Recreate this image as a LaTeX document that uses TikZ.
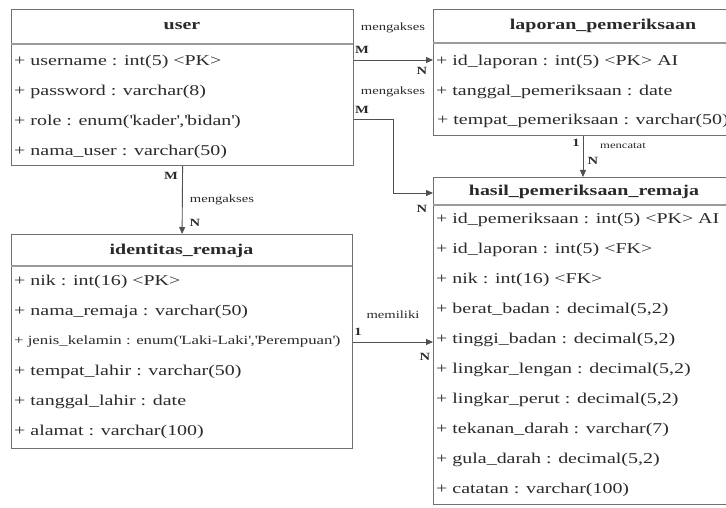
\documentclass[tikz,border=0pt]{standalone}
\usepackage{fontspec}
\setmainfont{Liberation Serif}[FakeStretch=1.33]
\usetikzlibrary{arrows.meta}
\definecolor{bordc}{HTML}{707070}
\definecolor{divc}{HTML}{9A9A9A}
\definecolor{txtc}{HTML}{2A2A2A}
\definecolor{linec}{HTML}{505050}
\newcommand{\sq}{\textquotesingle}
\tikzset{
  box/.style={draw=bordc, line width=1.2pt, fill=white, inner sep=0pt, anchor=north west},
  divider/.style={draw=divc, line width=1.2pt},
  ttl/.style={font=\fontsize{15}{15}\selectfont\bfseries, text=txtc, inner sep=0pt},
  row/.style={font=\fontsize{15}{15}\selectfont, text=txtc, anchor=west, inner sep=0pt},
  smallrow/.style={font=\fontsize{12.6}{12.6}\selectfont, text=txtc, anchor=west, inner sep=0pt},
  conn/.style={draw=linec, line width=0.9pt, -{Triangle[length=7pt,width=6pt]}},
  lbl/.style={font=\fontsize{11}{11}\selectfont, text=txtc, inner sep=0pt},
  tinylbl/.style={font=\fontsize{9.5}{9.5}\selectfont, text=txtc, inner sep=0pt},
  card/.style={font=\fontsize{11}{11}\selectfont\bfseries, text=txtc, inner sep=0pt},
}
\begin{document}
\begin{tikzpicture}[x=1pt,y=-1pt]
\useasboundingbox (0,0) rectangle (726,508);
\fill[white] (0,0) rectangle (726,508);
\clip (0,0) rectangle (726,508);

% ---------- user ----------
\node[box, minimum width=342pt, minimum height=156pt] (user) at (11,9) {};
\draw[divider] (11,44) -- (353,44);
\node[ttl] (ut) at (182,26.5) {user};
\node[row] (u1) at (14,62) {+ username : int(5) <PK>};
\node[row] (u2) at (14,92) {+ password : varchar(8)};
\node[row] (u3) at (14,122) {+ role : enum(\sq kader\sq,\sq bidan\sq)};
\node[row] (u4) at (14,152) {+ nama\_user : varchar(50)};

% ---------- laporan_pemeriksaan ----------
\node[box, minimum width=340pt, minimum height=126pt] (lap) at (433,9) {};
\draw[divider] (433,43) -- (773,43);
\node[ttl] (lt) at (603,26) {laporan\_pemeriksaan};
\node[row] (l1) at (436,62) {+ id\_laporan : int(5) <PK> AI};
\node[row] (l2) at (436,92) {+ tanggal\_pemeriksaan : date};
\node[row] (l3) at (437,121) {+ tempat\_pemeriksaan : varchar(50)};

% ---------- hasil_pemeriksaan_remaja ----------
\node[box, minimum width=340pt, minimum height=327pt] (hasil) at (433,177) {};
\draw[divider] (433,205) -- (773,205);
\node[ttl] (ht) at (584,192) {hasil\_pemeriksaan\_remaja};
\node[row] (h1) at (436,220) {+ id\_pemeriksaan : int(5) <PK> AI};
\node[row] (h2) at (436,250) {+ id\_laporan : int(5) <FK>};
\node[row] (h3) at (436,280) {+ nik : int(16) <FK>};
\node[row] (h4) at (436,310) {+ berat\_badan : decimal(5,2)};
\node[row] (h5) at (436,340) {+ tinggi\_badan : decimal(5,2)};
\node[row] (h6) at (436,370) {+ lingkar\_lengan : decimal(5,2)};
\node[row] (h7) at (436,400) {+ lingkar\_perut : decimal(5,2)};
\node[row] (h8) at (436,430) {+ tekanan\_darah : varchar(7)};
\node[row] (h9) at (436,460) {+ gula\_darah : decimal(5,2)};
\node[row] (h10) at (436,490) {+ catatan : varchar(100)};

% ---------- identitas_remaja ----------
\node[box, minimum width=341pt, minimum height=214pt] (iden) at (11,234) {};
\draw[divider] (11,266) -- (352,266);
\node[ttl] (it) at (181.5,251) {identitas\_remaja};
\node[row] (i1) at (14,282) {+ nik : int(16) <PK>};
\node[row] (i2) at (14,312) {+ nama\_remaja : varchar(50)};
\node[smallrow] (i3) at (14,341) {+ jenis\_kelamin : enum(\sq Laki-Laki\sq,\sq Perempuan\sq)};
\node[row] (i4) at (14,372) {+ tempat\_lahir : varchar(50)};
\node[row] (i5) at (14,402) {+ tanggal\_lahir : date};
\node[row] (i6) at (14,432) {+ alamat : varchar(100)};

% ---------- connectors ----------
\coordinate (ya) at (0,60);
\coordinate (b1) at (393,119);
\coordinate (b2) at (393,193);
\coordinate (xc) at (583,0);
\coordinate (ym) at (0,342);

% user -> identitas_remaja
\draw[conn] (user.south) -- (iden.north);
\node[card] (c1m) at (171,176) {M};
\node[lbl] (c1l) at (222,200) {mengakses};
\node[card] (c1n) at (195,223) {N};

% user -> laporan_pemeriksaan
\draw[conn] (user.east |- ya) -- (lap.west |- ya);
\node[lbl] (c2l) at (393,28) {mengakses};
\node[card] (c2m) at (362,50) {M};
\node[card] (c2n) at (422,71) {N};

% user -> hasil_pemeriksaan_remaja
\draw[conn] (user.east |- b1) -- (b1) -- (b2) -- (hasil.west |- b2);
\node[lbl] (c3l) at (393,92) {mengakses};
\node[card] (c3m) at (362,110) {M};
\node[card] (c3n) at (422,209) {N};

% laporan -> hasil
\draw[conn] (lap.south -| xc) -- (hasil.north -| xc);
\node[card] (c4o) at (576,143) {1};
\node[card] (c4n) at (593,161) {N};
\node[tinylbl] (c4l) at (623,146) {mencatat};

% identitas -> hasil
\draw[conn] (iden.east |- ym) -- (hasil.west |- ym);
\node[lbl] (c5l) at (393,315) {memiliki};
\node[card] (c5o) at (358,332) {1};
\node[card] (c5n) at (425,357) {N};
\end{tikzpicture}
\end{document}
